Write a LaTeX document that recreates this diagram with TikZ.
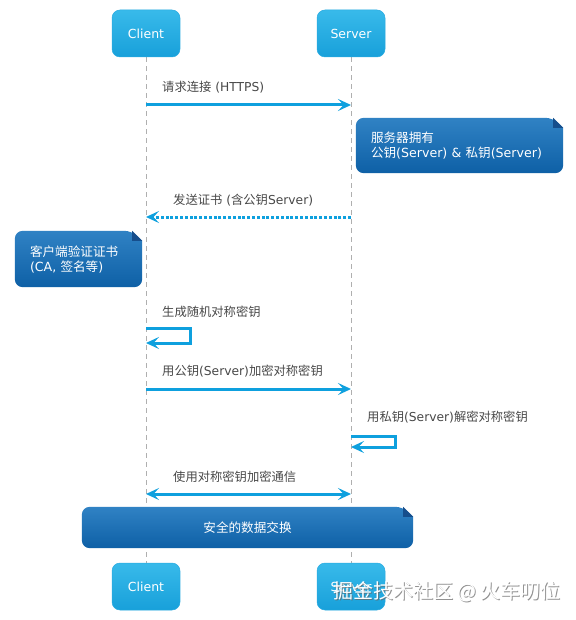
\documentclass[tikz,border=0pt]{standalone}
\usepackage{fontspec}
\setmainfont{DejaVu Sans}
\newfontfamily\cjk{Noto Sans CJK SC}
\newcommand\zh[1]{{\cjk #1}}
\usetikzlibrary{arrows.meta,backgrounds,calc}
\definecolor{arrowc}{RGB}{14,160,222}
\definecolor{partT}{RGB}{56,186,234}
\definecolor{partB}{RGB}{24,160,218}
\definecolor{partD}{RGB}{40,170,225}
\definecolor{noteT}{RGB}{48,130,196}
\definecolor{noteB}{RGB}{14,96,166}
\definecolor{noteF}{RGB}{22,78,140}
\definecolor{lifec}{RGB}{175,175,175}
\definecolor{lblc}{RGB}{72,72,72}
\tikzset{
  part/.style={rounded corners=8pt, top color=partT, bottom color=partB, draw=partD,
    line width=0.5pt, minimum width=68pt, minimum height=47pt, text=white,
    font=\fontsize{12.5}{14}\selectfont, inner sep=0pt},
  notebox/.style={text=white, font=\fontsize{12.6}{15}\selectfont, inner xsep=15pt,
    inner ysep=0pt, align=left},
  lbl/.style={anchor=west, text=lblc, font=\fontsize{12.3}{14}\selectfont, inner sep=0pt},
  life/.style={draw=lifec, line width=0.8pt, dash pattern=on 5pt off 4pt},
  tip/.tip={Stealth[length=13pt,width=12pt,inset=5.5pt]},
  msg/.style={draw=arrowc, line width=3pt, -tip},
  dotmsg/.style={msg, dash pattern=on 3pt off 1.8pt},
}
\newcommand\notebg[1]{%
  \shade[top color=noteT, bottom color=noteB, rounded corners=8pt]
    (#1.south west) -- (#1.north west) -- ([xshift=-10pt]#1.north east)
    [sharp corners] -- ([yshift=-10pt]#1.north east)
    [rounded corners=8pt] -- (#1.south east) -- cycle;
  \fill[noteF] ([xshift=-10pt]#1.north east) -- ([yshift=-10pt]#1.north east)
    -- ([xshift=-10pt,yshift=-10pt]#1.north east) -- cycle;}
\begin{document}
\begin{tikzpicture}[x=1pt,y=-1pt]
\useasboundingbox (0,0) rectangle (575,620);
% participants
\node[part] (c1) at (146,33.5) {Client};
\node[part] (s1) at (351,33.5) {Server};
\node[part] (c2) at (146,586.5) {Client};
\node[part] (s2) at (351,586.5) {Server};
% notes (text)
\node[notebox, minimum width=207pt, minimum height=55pt, text width=177pt] (n1) at (459.5,145.5)
  {\zh{服务器拥有}\\\zh{公钥}(Server) \& \zh{私钥}(Server)};
\node[notebox, minimum width=127pt, minimum height=56pt, text width=97pt] (n2) at (78.5,259)
  {\zh{客户端验证证书}\\(CA, \zh{签名等})};
\node[notebox, minimum width=331pt, minimum height=41pt, align=center] (n3) at (247.5,527.5)
  {\zh{安全的数据交换}};
\begin{scope}[on background layer]
  \fill[white] (0,0) rectangle (575,620);
  \draw[life] (c1.south) -- (c2.north);
  \draw[life] (s1.south) -- (s2.north);
  \notebg{n1}
  \notebg{n2}
  \notebg{n3}
\end{scope}
% message points
\coordinate (a1) at (146,105);  \coordinate (b1) at (351,105);
\coordinate (a2) at (146,217);  \coordinate (b2) at (351,217);
\coordinate (a3) at (146,328);  \coordinate (a3e) at (146,343);
\coordinate (a4) at (146,389);  \coordinate (b4) at (351,389);
\coordinate (b5) at (351,436);  \coordinate (b5e) at (351,447);
\coordinate (a6) at (146,494);  \coordinate (b6) at (351,494);
% labels
\node[lbl] (l1) at (162,87) {\zh{请求连接} (HTTPS)};
\node[lbl] (l2) at (173,200) {\zh{发送证书} (\zh{含公钥}Server)};
\node[lbl] (l3) at (162,312) {\zh{生成随机对称密钥}};
\node[lbl] (l4) at (162,371) {\zh{用公钥}(Server)\zh{加密对称密钥}};
\node[lbl] (l5) at (367,417) {\zh{用私钥}(Server)\zh{解密对称密钥}};
\node[lbl] (l6) at (173,477) {\zh{使用对称密钥加密通信}};
% messages
\draw[msg] (a1) -- (b1);
\draw[dotmsg] (b2) -- (a2);
\draw[msg] (a3) -- ++(44,0) |- (a3e);
\draw[msg] (a4) -- (b4);
\draw[msg] (b5) -- ++(44,0) |- (b5e);
\draw[msg, tip-tip] (a6) -- (b6);
% watermark
\node[font=\cjk\fontsize{20}{24}\selectfont, text=black!60, opacity=0.7] (wms) at (448,593) {掘金技术社区 @ 火车叨位};
\node[font=\cjk\fontsize{20}{24}\selectfont, text=white] (wm) at (447,592) {掘金技术社区 @ 火车叨位};
\end{tikzpicture}
\end{document}
